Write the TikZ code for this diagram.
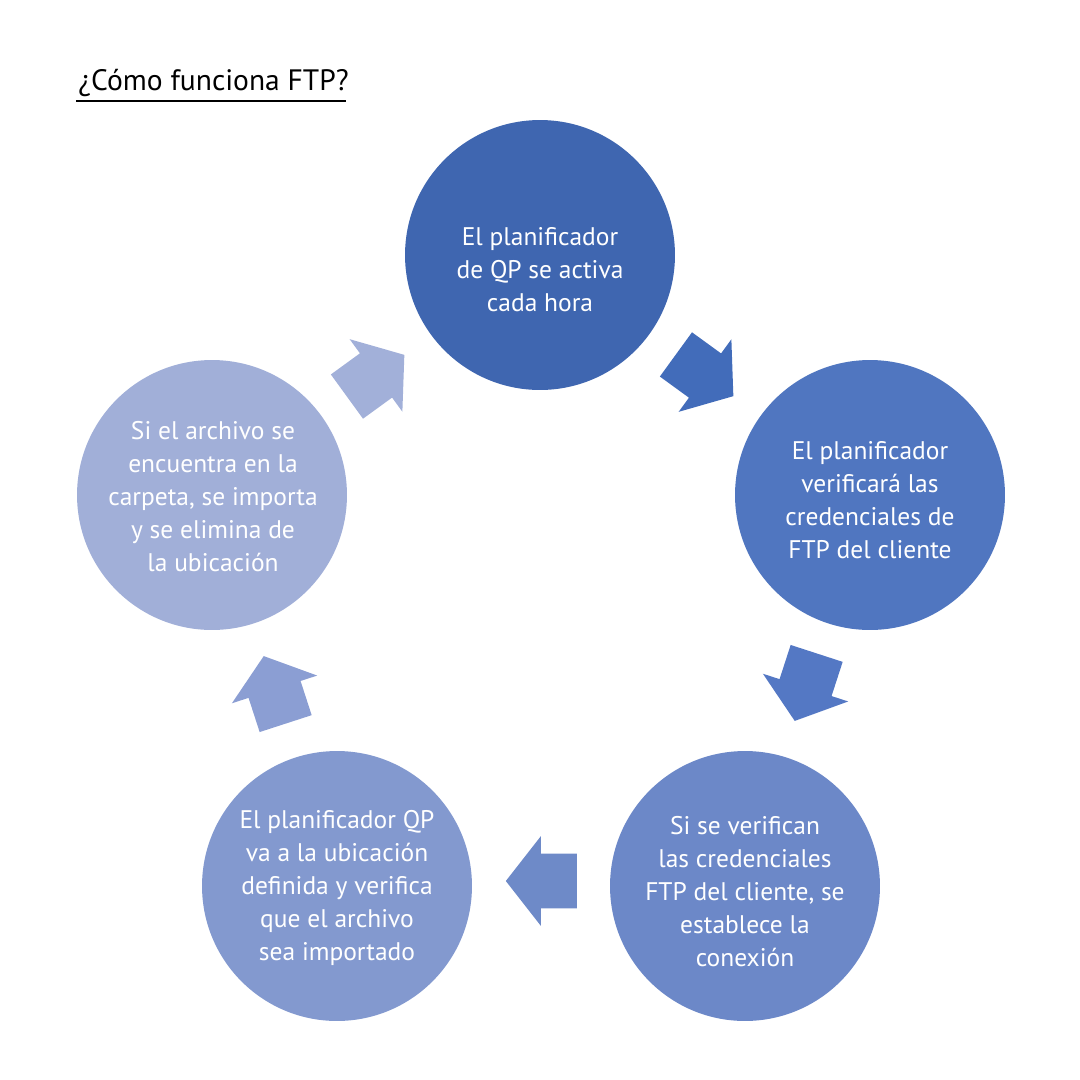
\documentclass[tikz,border=0pt]{standalone}
\usepackage{fontspec}
\setmainfont{PT Sans}
\usetikzlibrary{shapes.arrows}
\definecolor{fillA}{RGB}{63,102,176}
\definecolor{fillB}{RGB}{80,118,192}
\definecolor{fillC}{RGB}{108,136,200}
\definecolor{fillD}{RGB}{131,153,207}
\definecolor{fillE}{RGB}{161,175,216}
\definecolor{arrA}{RGB}{66,108,186}
\definecolor{arrB}{RGB}{84,120,196}
\definecolor{arrC}{RGB}{110,138,200}
\definecolor{arrD}{RGB}{139,158,211}
\definecolor{arrE}{RGB}{162,176,217}
\tikzset{
  kstage/.style={circle, minimum size=5.4cm, inner sep=0pt},
  ktext/.style={align=center, text=white, font=\fontsize{14.5}{18.8}\selectfont},
  kturn/.style={single arrow, draw=none, inner xsep=0pt, inner ysep=0.54cm,
    minimum height=1.42cm, single arrow head extend=0.35cm, single arrow tip angle=104},
  ktitle/.style={anchor=base west, inner sep=0pt, font=\fontsize{16.8}{20}\selectfont},
}

\begin{document}
\begin{tikzpicture}[x=0.02cm, y=-0.02cm]
    \useasboundingbox (0,0) rectangle (1080,1080);
    \node[ktitle] (title) at (78,90) {¿Cómo funciona FTP?};
    \draw[line width=1.2pt] (76,101) -- (346,101);
    % the five stages
    \node[kstage, fill=fillA] (s1) at (540,255) {};
    \node[kstage, fill=fillB] (s2) at (870,495) {};
    \node[kstage, fill=fillC] (s3) at (745,886) {};
    \node[kstage, fill=fillD] (s4) at (337,886) {};
    \node[kstage, fill=fillE] (s5) at (212,495) {};
    \node[ktext] (t1) at (540,270) {El planificador\\de QP se activa\\cada hora};
    \node[ktext] (t2) at (870,500) {El planificador\\verificará las\\credenciales de\\FTP del cliente};
    \node[ktext] (t3) at (745,892) {Si se verifican\\las credenciales\\FTP del cliente, se\\establece la\\conexión};
    \node[ktext] (t4) at (337,888) {El planificador QP\\va a la ubicación\\definida y verifica\\que el archivo\\sea importado};
    \node[ktext] (t5) at (213,497) {Si el archivo se\\encuentra en la\\carpeta, se importa\\y se elimina de\\la ubicación};
    % block arrows between the stages
    \node[kturn, fill=arrA, rotate=-36] (a12) at (696,369) {};
    \node[kturn, fill=arrB, rotate=252] (a23) at (809,677) {};
    \node[kturn, fill=arrC, rotate=180] (a34) at (552,881) {};
    \node[kturn, fill=arrD, rotate=108] (a45) at (278,700) {};
    \node[kturn, fill=arrE, rotate=36] (a51) at (367,382) {};
  \end{tikzpicture}
\end{document}
